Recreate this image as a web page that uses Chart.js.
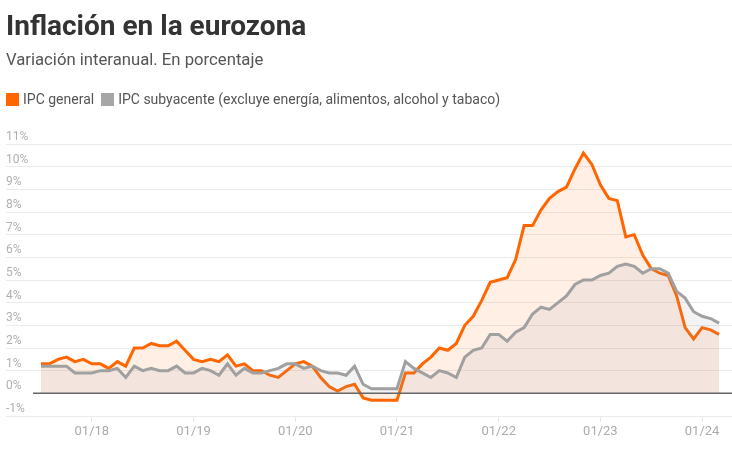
<!DOCTYPE html>
<html>
<head>
<meta charset="utf-8">
<script src="https://cdn.jsdelivr.net/npm/chart.js@4/dist/chart.umd.min.js"></script>
<style>
  html, body { margin:0; padding:0; background:#fff; }
  body { width:732px; height:464px; position:relative; overflow:hidden; font-family: Roboto, "Noto Sans", sans-serif; }
  #title { position:absolute; left:6px; top:12px; font-size:28px; line-height:28px; font-weight:700; color:#333; white-space:nowrap; }
  #subtitle { position:absolute; left:6px; top:52px; font-size:16.7px; line-height:16px; color:#555; white-space:nowrap; }
  #legend { position:absolute; left:6px; top:92px; font-size:14px; line-height:14px; color:#555; white-space:nowrap; }
  #legend .item { display:inline-block; margin-right:7px; }
  #legend .box { display:inline-block; width:13px; height:13px; vertical-align:-2px; margin-right:4px; }
  #wrap { position:absolute; left:0; top:0; width:732px; height:464px; }
</style>
</head>
<body>
<div id="wrap"><canvas id="c"></canvas></div>
<div id="title">Inflación en la eurozona</div>
<div id="subtitle">Variación interanual. En porcentaje</div>
<div id="legend"></div>
<script>
// Months (as labelled on the chart's axis)
const months = [
  '07/17','08/17','09/17','10/17','11/17','12/17',
  '01/18','02/18','03/18','04/18','05/18','06/18','07/18','08/18','09/18','10/18','11/18','12/18',
  '01/19','02/19','03/19','04/19','05/19','06/19','07/19','08/19','09/19','10/19','11/19','12/19',
  '01/20','02/20','03/20','04/20','05/20','06/20','07/20','08/20','09/20','10/20','11/20','12/20',
  '01/21','02/21','03/21','04/21','05/21','06/21','07/21','08/21','09/21','10/21','11/21','12/21',
  '01/22','02/22','03/22','04/22','05/22','06/22','07/22','08/22','09/22','10/22','11/22','12/22',
  '01/23','02/23','03/23','04/23','05/23','06/23','07/23','08/23','09/23','10/23','11/23','12/23',
  '01/24','02/24','03/24'
];
const seriesNames = ['IPC general', 'IPC subyacente (excluye energía, alimentos, alcohol y tabaco)'];
const ipcGeneral = [
  1.3, 1.3, 1.5, 1.6, 1.4, 1.5,
  1.3, 1.3, 1.1, 1.4, 1.2, 2.0, 2.0, 2.2, 2.1, 2.1, 2.3, 1.9,
  1.5, 1.4, 1.5, 1.4, 1.7, 1.2, 1.3, 1.0, 1.0, 0.8, 0.7, 1.0,
  1.3, 1.4, 1.2, 0.7, 0.3, 0.1, 0.3, 0.4, -0.2, -0.3, -0.3, -0.3,
  -0.3, 0.9, 0.9, 1.3, 1.6, 2.0, 1.9, 2.2, 3.0, 3.4, 4.1, 4.9,
  5.0, 5.1, 5.9, 7.4, 7.4, 8.1, 8.6, 8.9, 9.1, 9.9, 10.6, 10.1,
  9.2, 8.6, 8.5, 6.9, 7.0, 6.1, 5.5, 5.3, 5.2, 4.3, 2.9, 2.4,
  2.9, 2.8, 2.6
];
const ipcSubyacente = [
  1.2, 1.2, 1.2, 1.2, 0.9, 0.9,
  0.9, 1.0, 1.0, 1.1, 0.7, 1.2, 1.0, 1.1, 1.0, 1.0, 1.2, 0.9,
  0.9, 1.1, 1.0, 0.8, 1.3, 0.8, 1.1, 0.9, 0.9, 1.0, 1.1, 1.3,
  1.3, 1.1, 1.2, 1.0, 0.9, 0.9, 0.8, 1.2, 0.4, 0.2, 0.2, 0.2,
  0.2, 1.4, 1.1, 0.9, 0.7, 1.0, 0.9, 0.7, 1.6, 1.9, 2.0, 2.6,
  2.6, 2.3, 2.7, 2.9, 3.5, 3.8, 3.7, 4.0, 4.3, 4.8, 5.0, 5.0,
  5.2, 5.3, 5.6, 5.7, 5.6, 5.3, 5.5, 5.5, 5.3, 4.5, 4.2, 3.6,
  3.4, 3.3, 3.1
];
const yTicks = [-1, 0, 1, 2, 3, 4, 5, 6, 7, 8, 9, 10, 11];

const ORANGE = '#ff6600';
const GREY = '#a0a0a0';

// HTML legend
const legendColors = [ORANGE, '#a6a6a6'];
document.getElementById('legend').innerHTML = seriesNames.map((n, i) =>
  '<span class="item"><span class="box" style="background:' + legendColors[i] + '"></span>' + n + '</span>'
).join('');

const toPoints = arr => arr.map((v, i) => ({ x: i, y: v }));

const zeroLine = {
  id: 'zeroLine',
  afterDatasetsDraw(chart) {
    const y = chart.scales.y.getPixelForValue(0);
    const ctx = chart.ctx;
    ctx.save();
    ctx.strokeStyle = '#666';
    ctx.lineWidth = 1.5;
    ctx.beginPath();
    ctx.moveTo(33, y);
    ctx.lineTo(chart.chartArea.right, y);
    ctx.stroke();
    ctx.restore();
  }
};

new Chart(document.getElementById('c'), {
  type: 'line',
  data: {
    datasets: [
      {
        label: seriesNames[1],
        data: toPoints(ipcSubyacente),
        borderColor: GREY,
        backgroundColor: 'rgba(153,153,153,0.12)',
        borderWidth: 3,
        pointRadius: 0,
        fill: 'origin',
        tension: 0
      },
      {
        label: seriesNames[0],
        data: toPoints(ipcGeneral),
        borderColor: ORANGE,
        backgroundColor: 'rgba(255,102,0,0.1)',
        borderWidth: 3,
        pointRadius: 0,
        fill: 'origin',
        tension: 0
      }
    ]
  },
  options: {
    responsive: true,
    maintainAspectRatio: false,
    animation: false,
    events: [],
    layout: { padding: { top: 144, left: 6, right: 0, bottom: 8 } },
    plugins: { legend: { display: false }, tooltip: { enabled: false } },
    scales: {
      x: {
        type: 'linear',
        min: -4.13,
        max: 81.53,
        afterBuildTicks(scale) {
          scale.ticks = months.map((m, i) => ({ value: i, label: m }))
                              .filter(t => t.label.startsWith('01/'))
                              .map(t => ({ value: t.value }));
        },
        afterFit(scale) { scale.height = 40; },
        ticks: {
          callback: (v) => months[v],
          color: '#ababab',
          font: { family: 'Roboto', size: 13 },
          padding: 2,
          maxRotation: 0,
          autoSkip: false
        },
        grid: { drawOnChartArea: false, drawTicks: true, tickLength: 6, color: '#e6e6e6' },
        border: { display: false }
      },
      y: {
        min: -1,
        max: 11,
        afterBuildTicks(scale) { scale.ticks = yTicks.map(v => ({ value: v })); },
        ticks: {
          mirror: true,
          padding: 0,
          labelOffset: -7,
          callback: v => v + '%',
          color: '#b0b0b0',
          font: { family: 'Roboto', size: 12 }
        },
        grid: {
          drawTicks: false,
          color: ctx => (ctx.tick && ctx.tick.value === 0) ? 'rgba(0,0,0,0)' : '#ebebeb',
          lineWidth: 1
        },
        border: { display: false }
      }
    }
  },
  plugins: [zeroLine]
});
</script>
</body>
</html>
